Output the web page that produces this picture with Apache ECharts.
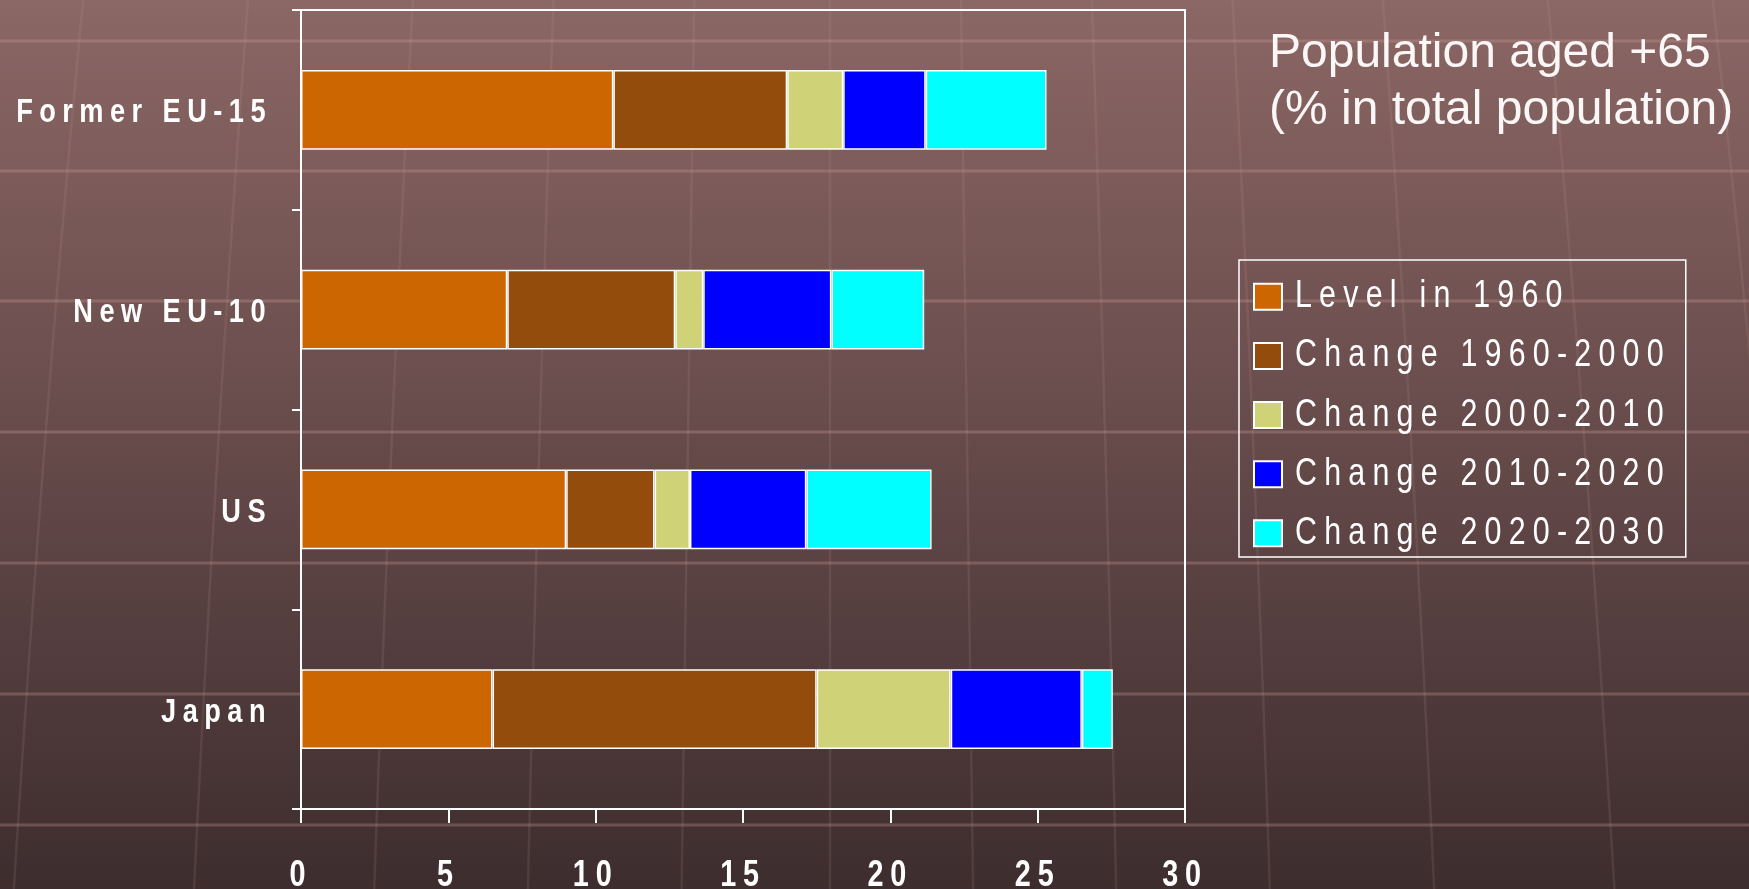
<!DOCTYPE html>
<html>
<head>
<meta charset="utf-8">
<title>Population aged +65</title>
<script src="https://cdn.jsdelivr.net/npm/echarts@6/dist/echarts.min.js"></script>
<style>
  html, body { margin: 0; padding: 0; background: #3d2d2e; }
  #chart { width: 1749px; height: 889px; }
</style>
</head>
<body>
<div id="chart"></div>
<script>
// ---- data -------------------------------------------------------------
const categories = ['Former EU-15', 'New EU-10', 'US', 'Japan'];
const seriesNames = ['Level in 1960', 'Change 1960-2000', 'Change 2000-2010', 'Change 2010-2020', 'Change 2020-2030'];
const level1960        = [10.6, 7.0, 9.0, 6.5];
const change1960to2000 = [5.9, 5.7, 3.0, 11.0];
const change2000to2010 = [1.9, 0.95, 1.2, 4.55];
const change2010to2020 = [2.8, 4.35, 3.95, 4.45];
const change2020to2030 = [4.1, 3.15, 4.25, 1.05];
const xMin = 0, xMax = 30, xStep = 5;
const chartTitle = 'Population aged +65\n(% in total population)';

// ---- styling ----------------------------------------------------------
const seriesColors = ['#cc6600', '#934c0c', '#d0d278', '#0000ff', '#00ffff'];
const NARROW = '"Liberation Sans Narrow", "Liberation Sans", Arial, sans-serif';
const REGULAR = '"Liberation Sans", Arial, Helvetica, sans-serif';

// Narrow, widely tracked lettering: the narrow face is synthesised by
// squeezing the regular one horizontally, and tracking grows with size.
const SQUEEZE = 0.8;
const TRACK = 0.19;
function isNarrow(font) { return /Narrow/.test(font); }
function fontSize(font) {
  const m = /(\d+(?:\.\d+)?)px/.exec(font);
  return m ? parseFloat(m[1]) : 12;
}
const proto = CanvasRenderingContext2D.prototype;
const baseFillText = proto.fillText;
proto.fillText = function (text, x, y, maxWidth) {
  if (!isNarrow(this.font)) {
    this.letterSpacing = '0px';
    return maxWidth === undefined
      ? baseFillText.call(this, text, x, y)
      : baseFillText.call(this, text, x, y, maxWidth);
  }
  const size = fontSize(this.font);
  this.save();
  this.translate(x, y);
  this.scale(SQUEEZE, 1);
  this.letterSpacing = (size * TRACK / SQUEEZE).toFixed(2) + 'px';
  baseFillText.call(this, text, 0, 0);
  this.restore();
};
const measureCtx = document.createElement('canvas').getContext('2d');
echarts.setPlatformAPI({
  measureText(text, font) {
    measureCtx.font = font || '12px sans-serif';
    const narrow = isNarrow(measureCtx.font);
    const sx = narrow ? SQUEEZE : 1;
    measureCtx.letterSpacing = narrow
      ? (fontSize(measureCtx.font) * TRACK / SQUEEZE).toFixed(2) + 'px'
      : '0px';
    const m = measureCtx.measureText(text);
    return {
      width: m.width * sx,
      actualBoundingBoxLeft: m.actualBoundingBoxLeft * sx,
      actualBoundingBoxRight: m.actualBoundingBoxRight * sx,
      actualBoundingBoxAscent: m.actualBoundingBoxAscent,
      actualBoundingBoxDescent: m.actualBoundingBoxDescent,
      fontBoundingBoxAscent: m.fontBoundingBoxAscent,
      fontBoundingBoxDescent: m.fontBoundingBoxDescent
    };
  }
});

const W = 1749, H = 889;
// Decorative globe grid behind the chart
const decor = [];
[41, 171, 301, 432, 563, 694, 825].forEach(function (y) {
  decor.push({
    type: 'line', silent: true, z: -10,
    shape: { x1: 0, y1: y, x2: W, y2: y },
    style: { stroke: 'rgba(205,160,155,0.3)', lineWidth: 3 }
  });
});
const cx = 830;
[-120, 60, 230, 400, 545, 690, 830, 965, 1100, 1245, 1400, 1570, 1740].forEach(function (x) {
  const off = x - cx;
  decor.push({
    type: 'bezierCurve', silent: true, z: -10,
    shape: {
      x1: cx + off * 0.97, y1: 0,
      x2: cx + off * 1.06, y2: H,
      cpx1: cx + off * 1.02, cpy1: H * 0.45
    },
    style: { stroke: 'rgba(205,160,155,0.13)', lineWidth: 2.5, fill: null }
  });
});

const seriesData = [level1960, change1960to2000, change2000to2010, change2010to2020, change2020to2030];

const option = {
  animation: false,
  backgroundColor: new echarts.graphic.LinearGradient(0, 0, 0, 1, [
    { offset: 0, color: '#8b6765' },
    { offset: 0.5, color: '#664a4a' },
    { offset: 1, color: '#3d2d2e' }
  ]),
  color: seriesColors,
  graphic: decor,
  title: {
    text: chartTitle,
    left: 1269,
    top: 25,
    padding: 0,
    textStyle: {
      fontFamily: REGULAR,
      fontSize: 48,
      fontWeight: 'normal',
      lineHeight: 57,
      color: '#fbf7f7'
    }
  },
  legend: {
    orient: 'vertical',
    left: 1239,
    top: 260,
    padding: [18, 15, 5, 14],
    borderColor: '#ffffff',
    borderWidth: 1.5,
    itemWidth: 28,
    itemHeight: 26,
    itemGap: 21.5,
    icon: 'rect',
    data: seriesNames,
    textStyle: {
      fontFamily: NARROW,
      fontSize: 38,
      color: '#ffffff',
      padding: [0, 0, 0, 8]
    }
  },
  grid: {
    show: true,
    left: 301,
    right: 564,
    top: 10,
    bottom: 80,
    borderColor: '#ffffff',
    borderWidth: 2,
    containLabel: false,
    outerBoundsMode: 'none'
  },
  xAxis: {
    type: 'value',
    min: xMin,
    max: xMax,
    interval: xStep,
    axisLine: { show: true, lineStyle: { color: '#ffffff', width: 2 } },
    axisTick: { show: true, length: 14, lineStyle: { color: '#ffffff', width: 2 } },
    splitLine: { show: false },
    axisLabel: {
      color: '#ffffff',
      fontFamily: NARROW,
      fontWeight: 'bold',
      fontSize: 36,
      margin: 49
    }
  },
  yAxis: {
    type: 'category',
    data: categories,
    inverse: true,
    axisLine: { show: true, lineStyle: { color: '#ffffff', width: 2 } },
    axisTick: { show: true, length: 9, lineStyle: { color: '#ffffff', width: 2 } },
    axisLabel: {
      color: '#ffffff',
      fontFamily: NARROW,
      fontWeight: 'bold',
      fontSize: 34,
      margin: 29,
      formatter: function (value) { return '{cat|' + value + '}'; },
      rich: {
        cat: {
          color: '#ffffff',
          fontFamily: NARROW,
          fontWeight: 'bold',
          fontSize: 34,
          padding: [6, 0, 0, 0]
        }
      }
    }
  },
  series: seriesNames.map(function (name, i) {
    return {
      name: name,
      type: 'bar',
      stack: 'total',
      barWidth: '40%',
      data: seriesData[i],
      itemStyle: { color: seriesColors[i], borderColor: '#ffffff', borderWidth: 1.5 }
    };
  })
};

const chart = echarts.init(document.getElementById('chart'), null, { renderer: 'canvas' });
chart.setOption(option);
</script>
</body>
</html>
